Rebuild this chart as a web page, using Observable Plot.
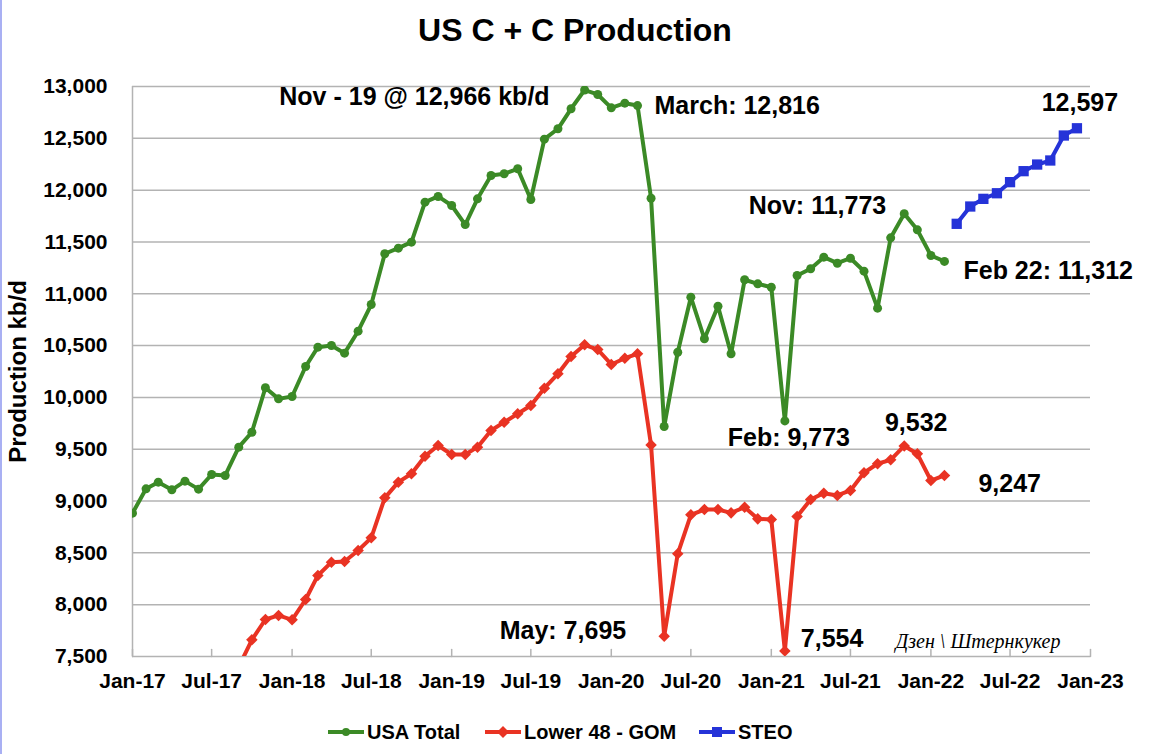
<!DOCTYPE html>
<html>
<head>
<meta charset="utf-8">
<script src="https://cdn.jsdelivr.net/npm/d3@7"></script>
<script src="https://cdn.jsdelivr.net/npm/@observablehq/plot@0.6"></script>
<style>
  body { margin: 0; background: #fff; font-family: "Liberation Sans", Arial, Helvetica, sans-serif; color: #000; }
  #wrap { position: relative; width: 1150px; height: 754px; overflow: hidden; background: #fff; }
  #edge { position: absolute; left: 0; top: 0; width: 2px; height: 754px; background: #a9b0f3; }
  #title { height: 46px; padding-top: 14px; line-height: 32px; font-size: 32px; font-weight: bold; text-align: center; }
  #chart svg { display: block; }
  #legend { position: relative; height: 54px; }
  .item { position: absolute; top: 22px; height: 20px; display: flex; align-items: center; font-size: 20px; font-weight: bold; line-height: 20px; white-space: nowrap; }
  .item svg { margin-right: 3px; }
</style>
</head>
<body>
<div id="wrap">
  <div id="edge"></div>
  <div id="title">US C + C Production</div>
  <div id="chart"></div>
  <div id="legend"></div>
</div>
<script>
// ---------- data ----------
const usaStart = "2017-01-01";
const usaTotal = [
  8883, 9118, 9182, 9108, 9192, 9115, 9256, 9247, 9520, 9664, 10093, 9986,
  10009, 10298, 10485, 10501, 10427, 10639, 10896, 11386, 11440, 11498, 11884, 11939,
  11852, 11668, 11916, 12141, 12158, 12206, 11910, 12492, 12592, 12785, 12966, 12923,
  12794, 12839, 12816, 11922, 9719, 10436, 10967, 10566, 10880, 10421, 11135, 11096,
  11063, 9773, 11176, 11241, 11353, 11295, 11343, 11218, 10861, 11540, 11773, 11617,
  11369, 11312
];
const lowerStart = "2017-09-01";
const lower48 = [
  7400, 7661, 7857, 7896,
  7854, 8050, 8282, 8410, 8417, 8523, 8645, 9031, 9182, 9263, 9433, 9536,
  9449, 9449, 9520, 9681, 9761, 9842, 9922, 10089, 10228, 10395, 10508, 10462,
  10318, 10378, 10421, 9540, 7695, 8491, 8867, 8918, 8918, 8886, 8940, 8828,
  8822, 7554, 8851, 9015, 9076, 9054, 9102, 9273, 9360, 9398, 9532, 9456,
  9198, 9247
];
const steoStart = "2022-03-01";
const steo = [11675, 11842, 11916, 11970, 12077, 12183, 12247, 12286, 12527, 12597];

const xTickLabels = ["Jan-17","Jul-17","Jan-18","Jul-18","Jan-19","Jul-19","Jan-20","Jul-20","Jan-21","Jul-21","Jan-22","Jul-22","Jan-23"];
const yTicks = [7500, 8000, 8500, 9000, 9500, 10000, 10500, 11000, 11500, 12000, 12500, 13000];

const seriesNames = ["USA Total", "Lower 48 - GOM", "STEO"];
const notes = [
  {series: "usa",   month: "2019-11", text: "Nov - 19 @ 12,966 kb/d"},
  {series: "usa",   month: "2020-03", text: "March: 12,816"},
  {series: "usa",   month: "2021-11", text: "Nov: 11,773"},
  {series: "usa",   month: "2022-02", text: "Feb 22: 11,312"},
  {series: "steo",  month: "2022-12", text: "12,597"},
  {series: "lower", month: "2021-11", text: "9,532"},
  {series: "lower", month: "2022-02", text: "9,247"},
  {series: "usa",   month: "2021-02", text: "Feb: 9,773"},
  {series: "lower", month: "2021-02", text: "7,554"},
  {series: "lower", month: "2020-05", text: "May: 7,695"}
];
const watermark = "Дзен \\ Штернкукер";
const yLabel = "Production kb/d";

// ---------- styles ----------
const green = "#3b8a26", red = "#e93323", blue = "#2533d8", gridColor = "#b3b3b3";
const noteStyle = [
  {textAnchor: "end",    dx: -35, dy: 15},
  {textAnchor: "start",  dx: 17,  dy: 8},
  {textAnchor: "end",    dx: -18, dy: 0},
  {textAnchor: "start",  dx: 19,  dy: 18},
  {textAnchor: "middle", dx: 3,   dy: -17},
  {textAnchor: "middle", dx: 12,  dy: -15},
  {textAnchor: "start",  dx: 34,  dy: 17},
  {textAnchor: "middle", dx: 4,   dy: 25},
  {textAnchor: "start",  dx: 16,  dy: -4},
  {textAnchor: "end",    dx: -38, dy: 3}
];

// ---------- build ----------
const rows = (start, vals) => vals.map((v, i) => ({date: d3.utcMonth.offset(new Date(start), i), value: v}));
const usaRows = rows(usaStart, usaTotal);
const lowerRows = rows(lowerStart, lower48);
const steoRows = rows(steoStart, steo);
const bySeries = {usa: usaRows, lower: lowerRows, steo: steoRows};
const monthKey = d3.utcFormat("%Y-%m");
const parseTick = d3.utcParse("%b-%y");
const xTicks = xTickLabels.map(parseTick);
const xDomain = [xTicks[0], xTicks[xTicks.length - 1]];

const tickShape = {draw(context, l) { context.moveTo(0, 0); context.lineTo(0, -l); }};

const noteMarks = notes.map((n, i) => Plot.text(
  bySeries[n.series].filter(d => monthKey(d.date) === n.month),
  {x: "date", y: "value", text: () => n.text, fontSize: 25, fontWeight: "bold", fill: "#000",
   lineAnchor: "bottom", ...noteStyle[i]}
));

const chart = Plot.plot({
  width: 1150,
  height: 640,
  marginLeft: 132,
  marginRight: 60,
  marginTop: 26,
  marginBottom: 44,
  style: {fontFamily: "Liberation Sans, Arial, Helvetica, sans-serif", fontSize: "21px", fontWeight: "bold", color: "#000", background: "transparent", overflow: "visible"},
  x: {type: "utc", domain: xDomain},
  y: {domain: [yTicks[0], yTicks[yTicks.length - 1]]},
  marks: [
    Plot.gridY(yTicks, {stroke: gridColor, strokeOpacity: 1, strokeWidth: 1.5}),
    Plot.ruleX([xDomain[0]], {stroke: gridColor, strokeWidth: 1.5}),
    Plot.vector(xTicks, {x: d => d, y: () => yTicks[0], length: 7, anchor: "start", stroke: gridColor, strokeWidth: 1.5, shape: tickShape}),
    Plot.axisX(xTicks, {tickSize: 0, tickPadding: 17, tickFormat: (d) => xTickLabels[xTicks.findIndex(t => +t === +d)], fontSize: 21, fontWeight: "bold", label: null}),
    Plot.axisY(yTicks, {tickSize: 0, tickPadding: 25, tickFormat: d3.format(","), fontSize: 21, fontWeight: "bold", label: null}),
    Plot.line(usaRows, {x: "date", y: "value", stroke: green, strokeWidth: 4, clip: true}),
    Plot.dot(usaRows, {x: "date", y: "value", r: 4.5, fill: green, symbol: "circle", clip: true}),
    Plot.line(lowerRows, {x: "date", y: "value", stroke: red, strokeWidth: 4, clip: true}),
    Plot.dot(lowerRows, {x: "date", y: "value", r: 5.2, fill: red, symbol: "diamond2", clip: true}),
    Plot.line(steoRows, {x: "date", y: "value", stroke: blue, strokeWidth: 4, clip: true}),
    Plot.dot(steoRows, {x: "date", y: "value", r: 5.8, fill: blue, symbol: "square", clip: true}),
    ...noteMarks,
    Plot.text([watermark], {frameAnchor: "bottom-right", text: d => d, textAnchor: "end", lineAnchor: "bottom", dx: -30, dy: -9,
      fontFamily: "Liberation Serif, DejaVu Serif, serif", fontStyle: "italic", fontWeight: "normal", fontSize: 20, fill: "#000"}),
    Plot.text([yLabel], {frameAnchor: "left", text: d => d, textAnchor: "middle", rotate: -90, dx: -114, fontSize: 24, fontWeight: "bold", fill: "#000"})
  ]
});
document.getElementById("chart").appendChild(chart);

// ---------- legend ----------
const legendItems = [
  {name: seriesNames[0], color: green, shape: "circle", left: 328},
  {name: seriesNames[1], color: red, shape: "diamond", left: 485},
  {name: seriesNames[2], color: blue, shape: "square", left: 699}
];
const legend = document.getElementById("legend");
for (const it of legendItems) {
  let m = "";
  if (it.shape === "circle") m = `<circle cx="18" cy="7" r="4" fill="${it.color}"/>`;
  if (it.shape === "diamond") m = `<path d="M18,1 L24,7 L18,13 L12,7 Z" fill="${it.color}"/>`;
  if (it.shape === "square") m = `<rect x="13" y="2" width="10" height="10" fill="${it.color}"/>`;
  const div = document.createElement("div");
  div.className = "item";
  div.style.left = it.left + "px";
  div.innerHTML = `<svg width="36" height="14"><line x1="0" y1="7" x2="36" y2="7" stroke="${it.color}" stroke-width="4"/>${m}</svg><span>${it.name}</span>`;
  legend.appendChild(div);
}
</script>
</body>
</html>
